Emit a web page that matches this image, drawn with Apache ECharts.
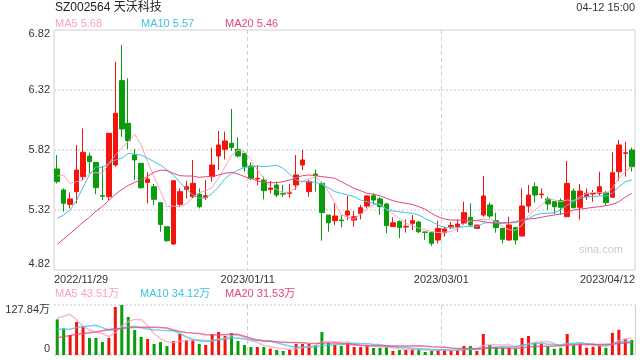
<!DOCTYPE html>
<html>
<head>
<meta charset="utf-8">
<script src="https://cdn.jsdelivr.net/npm/echarts@6/dist/echarts.min.js"></script>
<style>
html,body{margin:0;padding:0;background:#fff;}
#chart{width:640px;height:360px;}
</style>
</head>
<body>
<div id="chart"></div>
<script>
// ---- data ----
var titleText = 'SZ002564 天沃科技';
var timeText = '04-12 15:00';
var dates = [
'2022/11/29','2022/11/30',
'2022/12/01','2022/12/02','2022/12/05','2022/12/06','2022/12/07','2022/12/08','2022/12/09','2022/12/12','2022/12/13','2022/12/14','2022/12/15','2022/12/16','2022/12/19','2022/12/20','2022/12/21','2022/12/22','2022/12/23','2022/12/26','2022/12/27','2022/12/28','2022/12/29','2022/12/30',
'2023/01/03','2023/01/04','2023/01/05','2023/01/06','2023/01/09','2023/01/10','2023/01/11','2023/01/12','2023/01/13','2023/01/16','2023/01/17','2023/01/18','2023/01/19','2023/01/20','2023/01/30','2023/01/31',
'2023/02/01','2023/02/02','2023/02/03','2023/02/06','2023/02/07','2023/02/08','2023/02/09','2023/02/10','2023/02/13','2023/02/14','2023/02/15','2023/02/16','2023/02/17','2023/02/20','2023/02/21','2023/02/22','2023/02/23','2023/02/24','2023/02/27','2023/02/28',
'2023/03/01','2023/03/02','2023/03/03','2023/03/06','2023/03/07','2023/03/08','2023/03/09','2023/03/10','2023/03/13','2023/03/14','2023/03/15','2023/03/16','2023/03/17','2023/03/20','2023/03/21','2023/03/22','2023/03/23','2023/03/24','2023/03/27','2023/03/28','2023/03/29','2023/03/30','2023/03/31',
'2023/04/03','2023/04/04','2023/04/06','2023/04/07','2023/04/10','2023/04/11','2023/04/12'
];
var opens = [
5.662,5.487,5.367,5.473,5.598,5.770,5.717,5.440,5.431,5.695,
6.398,6.042,5.778,5.709,5.550,5.514,5.381,5.181,5.037,5.367,
5.492,5.431,5.451,5.423,5.598,5.770,5.826,5.876,5.826,5.792,
5.687,5.578,5.570,5.492,5.528,5.456,5.459,5.528,5.695,5.473,
5.620,5.542,5.278,5.231,5.236,5.278,5.236,5.292,5.353,5.439,
5.412,5.370,5.181,5.223,5.178,5.209,5.220,5.137,5.131,5.070,
5.131,5.180,5.181,5.209,5.259,5.167,5.278,5.362,5.231,5.167,
5.070,5.173,5.103,5.353,5.514,5.448,5.412,5.389,5.398,5.264,
5.478,5.342,5.431,5.453,5.459,5.464,5.426,5.639,5.792,5.820
];
var closes = [
5.556,5.376,5.412,5.653,5.801,5.723,5.506,5.435,5.959,6.126,
5.995,5.898,5.737,5.506,5.578,5.409,5.200,5.064,5.564,5.473,
5.514,5.542,5.348,5.439,5.695,5.862,5.895,5.842,5.770,5.681,
5.584,5.584,5.481,5.503,5.445,5.453,5.464,5.612,5.737,5.556,
5.606,5.298,5.214,5.270,5.231,5.312,5.264,5.339,5.437,5.403,
5.348,5.190,5.214,5.173,5.184,5.231,5.139,5.134,5.042,5.167,
5.162,5.190,5.203,5.298,5.195,5.195,5.437,5.270,5.173,5.076,
5.195,5.070,5.353,5.445,5.445,5.453,5.370,5.348,5.342,5.542,
5.339,5.478,5.459,5.459,5.514,5.381,5.631,5.862,5.797,5.681
];
var lows = [
5.542,5.306,5.334,5.376,5.570,5.626,5.451,5.403,5.403,5.681,
5.931,5.828,5.570,5.496,5.376,5.362,5.139,5.056,5.028,5.350,
5.417,5.420,5.334,5.403,5.556,5.653,5.742,5.814,5.759,5.639,
5.570,5.528,5.409,5.459,5.426,5.431,5.423,5.487,5.653,5.431,
5.473,5.064,5.139,5.195,5.176,5.236,5.181,5.242,5.334,5.362,
5.278,5.126,5.181,5.084,5.131,5.153,5.126,5.070,5.020,5.042,
5.098,5.160,5.139,5.195,5.181,5.162,5.264,5.250,5.131,5.042,
5.064,5.034,5.103,5.298,5.381,5.417,5.320,5.284,5.278,5.264,
5.334,5.242,5.403,5.389,5.439,5.356,5.426,5.564,5.598,5.640
];
var highs = [
5.778,5.501,5.467,5.862,6.000,5.798,5.717,5.687,5.959,6.556,
6.695,6.417,5.828,5.709,5.634,5.537,5.381,5.181,5.564,5.500,
5.564,5.737,5.500,5.570,5.839,5.978,5.973,6.162,5.926,5.792,
5.717,5.695,5.598,5.562,5.556,5.528,5.537,5.778,5.820,5.570,
5.659,5.556,5.278,5.376,5.278,5.437,5.312,5.362,5.445,5.459,
5.426,5.381,5.259,5.236,5.242,5.278,5.228,5.139,5.131,5.231,
5.181,5.220,5.242,5.389,5.376,5.195,5.603,5.381,5.298,5.167,
5.264,5.181,5.500,5.528,5.550,5.500,5.431,5.389,5.417,5.728,
5.500,5.537,5.500,5.487,5.639,5.478,5.800,5.903,5.889,5.839
];
var ma5 = [
5.603,5.612,5.542,5.556,5.570,5.626,5.631,5.626,5.709,5.778,
5.834,5.890,5.950,5.862,5.723,5.598,5.473,5.348,5.353,5.345,
5.370,5.420,5.465,5.480,5.510,5.585,5.680,5.775,5.820,5.805,
5.740,5.655,5.585,5.515,5.490,5.465,5.470,5.505,5.560,5.580,
5.595,5.550,5.475,5.380,5.280,5.262,5.245,5.285,5.330,5.365,
5.370,5.325,5.290,5.250,5.210,5.190,5.168,5.155,5.140,5.132,
5.135,5.140,5.165,5.205,5.228,5.236,5.242,5.242,5.224,5.182,
5.155,5.152,5.193,5.276,5.320,5.360,5.415,5.403,5.390,5.403,
5.398,5.430,5.458,5.466,5.467,5.460,5.500,5.585,5.640,5.680
];
var ma10 = [
5.251,5.278,5.320,5.400,5.510,5.615,5.680,5.673,5.709,5.737,
5.751,5.792,5.786,5.778,5.751,5.723,5.695,5.653,5.612,5.550,
5.495,5.447,5.418,5.422,5.458,5.513,5.582,5.625,5.652,5.675,
5.680,5.686,5.681,5.686,5.694,5.667,5.620,5.570,5.556,5.556,
5.551,5.535,5.505,5.473,5.459,5.445,5.431,5.403,5.389,5.376,
5.362,5.326,5.312,5.306,5.298,5.292,5.278,5.250,5.223,5.195,
5.176,5.167,5.173,5.181,5.181,5.181,5.209,5.217,5.217,5.217,
5.214,5.214,5.236,5.250,5.278,5.292,5.292,5.298,5.320,5.362,
5.389,5.417,5.431,5.431,5.437,5.437,5.459,5.514,5.556,5.570
];
var ma20 = [
5.033,5.080,5.124,5.171,5.219,5.260,5.310,5.350,5.400,5.450,
5.490,5.525,5.550,5.570,5.600,5.635,5.652,5.648,5.625,5.606,
5.603,5.603,5.592,5.598,5.598,5.612,5.626,5.634,5.620,5.598,
5.584,5.562,5.551,5.548,5.548,5.556,5.570,5.590,5.606,5.612,
5.606,5.598,5.592,5.584,5.556,5.528,5.500,5.481,5.459,5.451,
5.439,5.417,5.398,5.384,5.376,5.367,5.348,5.326,5.292,5.264,
5.245,5.236,5.236,5.236,5.234,5.231,5.223,5.214,5.209,5.209,
5.214,5.223,5.236,5.245,5.250,5.259,5.270,5.278,5.287,5.298,
5.320,5.328,5.334,5.342,5.348,5.356,5.367,5.389,5.426,5.459
];
var volumes = [
91.2,68.2,51.1,84.3,72.4,43.5,43.5,33.2,43.5,122.7,
127.84,97.1,63.9,46.0,40.9,28.1,33.2,23.0,35.8,53.7,
38.3,38.3,28.1,25.6,53.7,58.8,48.6,56.2,35.8,25.6,
20.4,20.4,20.4,16.2,12.8,10.2,12.8,28.1,28.1,28.1,
25.6,58.8,30.7,25.6,23.0,30.7,20.4,20.4,25.0,17.9,
17.9,20.4,10.2,12.8,12.8,15.3,15.3,7.7,10.2,13.5,
13.5,11.5,13.0,23.0,23.0,10.2,53.7,25.6,19.5,18.5,
18.5,15.8,43.5,48.6,32.0,28.5,21.0,15.8,18.3,53.7,
25.0,28.5,18.3,21.0,24.5,18.3,56.5,64.3,41.3,38.3
];
var volMa5 = [
94,99,104,90,73,64,59,55,47,57,
74,85,91,91,75,55,42,34,32,35,
37,38,39,37,37,41,43,49,51,45,
37,32,25,21,18,16,14.5,16,18.4,21.5,
24.5,33.7,34.3,33.8,32.7,33.8,26.1,24,23.9,22.9,
20.3,20.3,18.3,15.8,14.8,14.3,13.3,12.8,12.3,12.4,
12,11.3,12.3,14.9,16.8,16.1,24.6,27.1,26.4,25.5,
27.2,19.6,23.2,29,31.7,33.7,34.7,29.2,23.1,27.5,
26.8,28.3,28.8,29.3,23.5,22.1,27.7,36.9,41,43.51
];
var volMa10 = [
65.6,65.6,66,70,73,74,76,70,64,65.4,
69,71.9,73.2,69.4,66.2,64.7,63.6,62.6,61.9,55,
46,40.1,36.5,34.5,35.8,38.9,40.4,43.7,43.7,40.9,
39.1,37.3,36.6,35.6,31.5,26.7,23.1,20.3,19.5,19.8,
20.3,24.1,25.1,26.1,27.1,29.2,29.9,29.1,28.8,27.8,
27,23.2,21.2,19.9,18.9,17.3,16.8,15.5,14.1,13.6,
13.2,12.3,12.6,13.6,14.6,14.1,17.9,19.7,20.7,21.2,
21.7,22.1,25.1,27.7,28.6,30.4,27.2,26.2,26.1,29.6,
30.2,31.5,29,26.2,25.5,24.4,28,32.8,35.1,34.12
];
var volMa20 = [
44,47,50,53,55,57,59,62,65,67,
68,69.5,70.5,70.7,70.7,70.7,70.5,69,64,60.2,
57.5,56,54.9,51.9,51,51.8,52,53.2,52.8,47.9,
42.6,38.7,36.5,35.1,33.7,32.8,31.7,32,31.6,30.3,
29.7,30.7,30.8,30.8,29.3,27.9,26.5,24.7,24.2,23.8,
23.7,23.7,23.1,23,23,23.2,23.4,22.3,21.4,20.7,
20.1,17.7,16.9,16.7,16.7,15.7,17.4,17.6,17.4,17.4,
17.4,17.2,18.8,20.6,21.6,22.3,22.5,22.9,23.4,25.4,
25.9,26.8,27.1,27,27,27.4,27.6,29.5,30.6,31.53
];
var maLegend = ['MA5 5.68', 'MA10 5.57', 'MA20 5.46'];
var volLegend = ['MA5 43.51万', 'MA10 34.12万', 'MA20 31.53万'];
var xTickLabels = ['2022/11/29', '2023/01/11', '2023/03/01', '2023/04/12'];
var yTickValues = [4.82, 5.32, 5.82, 6.32, 6.82];
var yTickLabels = ['4.82', '5.32', '5.82', '6.32', '6.82'];
var volTickValues = [0, 127.84];
var volTickLabels = ['0', '127.84万'];

// ---- chart ----
var UP = '#f5140c', DOWN = '#0a9c0a';
var C5 = '#f7a3c1', C10 = '#3cc4e4', C20 = '#e8467c';
var FONT = 'Arial, "Liberation Sans", "Noto Sans CJK SC", sans-serif';

var ohlc = dates.map(function (d, i) { return [opens[i], closes[i], lows[i], highs[i]]; });
var volData = volumes.map(function (v, i) {
  return { value: v, itemStyle: { color: closes[i] >= opens[i] ? UP : DOWN } };
});

var gridLine = { color: '#e2e2e2', width: 2, type: [2, 2] };
var vLine = { color: '#cccccc', width: 1, type: [4, 3] };

function yFmt(values, labels) {
  return function (v) {
    var idx = 0, best = Infinity;
    for (var i = 0; i < values.length; i++) {
      var d = Math.abs(values[i] - v);
      if (d < best) { best = d; idx = i; }
    }
    var s = labels[idx];
    if (idx === values.length - 1) return '{t|' + s + '}';
    if (idx === 0) return '{b|' + s + '}';
    return '{m|' + s + '}';
  };
}
var labelRich = function (padTop, padBottom) {
  return {
    t: { padding: [padTop, 0, 0, 0], fontSize: 11, fontFamily: FONT, color: '#333' },
    b: { padding: [0, 0, padBottom, 0], fontSize: 11, fontFamily: FONT, color: '#333' },
    m: { fontSize: 11, fontFamily: FONT, color: '#333' }
  };
};

var chart = echarts.init(document.getElementById('chart'), null, { renderer: 'canvas' });
var option = {
  animation: false,
  backgroundColor: '#fff',
  textStyle: { fontFamily: FONT },
  grid: [
    { left: 54, right: 5, top: 30, height: 240, show: true, borderColor: '#cfcfcf', borderWidth: 1, backgroundColor: 'transparent' },
    { left: 54, right: 5, top: 305, height: 50 }
  ],
  xAxis: [
    { type: 'category', gridIndex: 0, data: dates, position: 'top', boundaryGap: true,
      axisLine: { show: false }, axisTick: { show: false }, axisLabel: { show: false }, splitLine: { show: false } },
    { type: 'value', gridIndex: 0, min: 0, max: 90, interval: 30, position: 'bottom',
      axisLine: { show: false }, axisTick: { show: false },
      splitLine: { show: true, showMinLine: false, showMaxLine: false, lineStyle: vLine },
      axisLabel: { margin: 4, color: '#333', fontSize: 11, fontFamily: FONT,
        alignMinLabel: 'left', alignMaxLabel: 'right',
        formatter: function (v) { return xTickLabels[Math.round(v / 30)]; } } },
    { type: 'category', gridIndex: 1, data: dates, position: 'top', boundaryGap: true,
      axisLine: { show: false }, axisTick: { show: false }, axisLabel: { show: false }, splitLine: { show: false } },
    { type: 'value', gridIndex: 1, min: 0, max: 90, interval: 30, position: 'bottom',
      axisLine: { show: false }, axisTick: { show: false }, axisLabel: { show: false },
      splitLine: { show: true, showMinLine: false, showMaxLine: false, lineStyle: vLine } }
  ],
  yAxis: [
    { type: 'value', gridIndex: 0, min: 4.82, max: 6.82, scale: true,
      axisLine: { show: false }, axisTick: { show: false, customValues: yTickValues },
      axisLabel: { customValues: yTickValues, margin: 4, formatter: yFmt(yTickValues, yTickLabels), rich: labelRich(8, 13) },
      splitLine: { show: true, showMinLine: false, showMaxLine: false, lineStyle: gridLine } },
    { type: 'value', gridIndex: 1, min: 0, max: 127.84,
      axisLine: { show: false }, axisTick: { show: false, customValues: volTickValues },
      axisLabel: { customValues: volTickValues, margin: 4, formatter: yFmt(volTickValues, volTickLabels), rich: labelRich(9, 13) },
      splitLine: { show: true, lineStyle: gridLine } },
    { type: 'value', gridIndex: 1, position: 'right', min: 0, max: 1,
      axisLine: { show: true, lineStyle: { color: '#cfcfcf', width: 1 } },
      axisTick: { show: false }, axisLabel: { show: false }, splitLine: { show: false } }
  ],
  series: [
    { type: 'candlestick', xAxisIndex: 0, yAxisIndex: 0, data: ohlc, barWidth: 5,
      itemStyle: { color: UP, color0: DOWN, borderColor: UP, borderColor0: DOWN, borderWidth: 1 } },
    { type: 'line', xAxisIndex: 0, yAxisIndex: 0, data: ma5, showSymbol: false, symbol: 'none',
      lineStyle: { color: C5, width: 1 }, z: 3 },
    { type: 'line', xAxisIndex: 0, yAxisIndex: 0, data: ma10, showSymbol: false, symbol: 'none',
      lineStyle: { color: C10, width: 1 }, z: 3 },
    { type: 'line', xAxisIndex: 0, yAxisIndex: 0, data: ma20, showSymbol: false, symbol: 'none',
      lineStyle: { color: C20, width: 1 }, z: 3 },
    { type: 'bar', xAxisIndex: 2, yAxisIndex: 1, data: volData, barWidth: 3 },
    { type: 'line', xAxisIndex: 2, yAxisIndex: 1, data: volMa5, showSymbol: false, symbol: 'none',
      lineStyle: { color: C5, width: 1.5, opacity: 0.75 }, z: 3 },
    { type: 'line', xAxisIndex: 2, yAxisIndex: 1, data: volMa10, showSymbol: false, symbol: 'none',
      lineStyle: { color: C10, width: 1.5, opacity: 0.75 }, z: 3 },
    { type: 'line', xAxisIndex: 2, yAxisIndex: 1, data: volMa20, showSymbol: false, symbol: 'none',
      lineStyle: { color: C20, width: 1.5, opacity: 0.75 }, z: 3 }
  ],
  graphic: [
    { type: 'text', x: 55, y: 8, style: { text: titleText, font: '12px ' + FONT, fill: '#222', verticalAlign: 'middle' } },
    { type: 'text', x: 635, y: 8, style: { text: timeText, font: '11px ' + FONT, fill: '#333', align: 'right', verticalAlign: 'middle' } },
    { type: 'text', x: 55, y: 24, style: { text: maLegend[0], font: '11px ' + FONT, fill: C5, verticalAlign: 'middle' } },
    { type: 'text', x: 141, y: 24, style: { text: maLegend[1], font: '11px ' + FONT, fill: C10, verticalAlign: 'middle' } },
    { type: 'text', x: 225, y: 24, style: { text: maLegend[2], font: '11px ' + FONT, fill: C20, verticalAlign: 'middle' } },
    { type: 'text', x: 55, y: 294, style: { text: volLegend[0], font: '11px ' + FONT, fill: C5, verticalAlign: 'middle' } },
    { type: 'text', x: 140, y: 294, style: { text: volLegend[1], font: '11px ' + FONT, fill: C10, verticalAlign: 'middle' } },
    { type: 'text', x: 225, y: 294, style: { text: volLegend[2], font: '11px ' + FONT, fill: C20, verticalAlign: 'middle' } },
    { type: 'text', x: 623, y: 250, style: { text: 'sina.com', font: '11px ' + FONT, fill: '#cccccc', align: 'right', verticalAlign: 'middle' } }
  ]
};
chart.setOption(option);
</script>
</body>
</html>
